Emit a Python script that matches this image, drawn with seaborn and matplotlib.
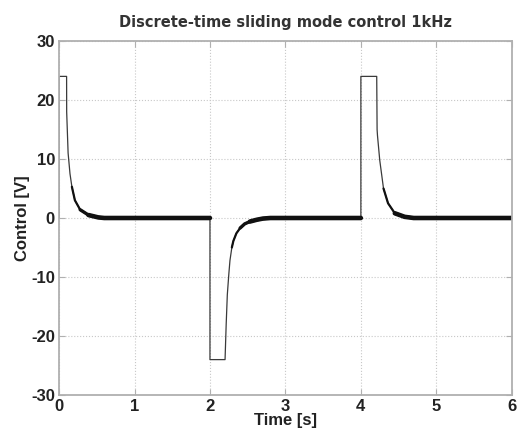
import matplotlib
matplotlib.use("Agg")
import matplotlib.pyplot as plt
import seaborn as sns
import pandas as pd
import numpy as np

# Control signal (time [s], control [V])
time_s = [0.0, 0.0, 0.10, 0.101, 0.12, 0.145, 0.17, 0.21, 0.28, 0.39, 0.52, 0.60,
          2.0, 2.0, 2.2, 2.215, 2.23, 2.25, 2.265, 2.29, 2.31, 2.35, 2.40, 2.46, 2.53, 2.62, 2.70, 2.80,
          4.0, 4.0, 4.21, 4.215, 4.22, 4.25, 4.30, 4.36, 4.45, 4.58, 4.70,
          6.0]
control_v = [0.0, 24.0, 24.0, 18.0, 11.0, 7.5, 5.3, 3.0, 1.4, 0.5, 0.1, 0.0,
             0.0, -24.0, -24.0, -18.0, -13.0, -9.5, -7.2, -5.0, -3.9, -2.6, -1.7, -1.0, -0.6, -0.3, -0.1, 0.0,
             0.0, 24.0, 24.0, 15.0, 14.0, 9.8, 5.0, 2.5, 0.8, 0.2, 0.0,
             0.0]

# Chattering (sliding-mode) intervals, where the trace looks thick
band_start = [0.15, 2.28, 4.28]
band_end = [2.0, 4.0, 6.0]

x_ticks = [0, 1, 2, 3, 4, 5, 6]
y_ticks = [-30, -20, -10, 0, 10, 20, 30]

sns.set_theme(style="white")
plt.rcParams['font.family'] = ['Liberation Sans', 'DejaVu Sans']
plt.rcParams['axes.unicode_minus'] = False

fig = plt.figure(figsize=(5.18, 4.36), dpi=100)
ax = fig.add_axes([0.114, 0.094, 0.874, 0.812])

df = pd.DataFrame({"t": time_s, "u": control_v})
sns.lineplot(data=df, x="t", y="u", ax=ax, color="#3a3a3a", linewidth=0.9,
             sort=False, estimator=None)

t_arr = np.array(time_s)
u_arr = np.array(control_v)
# taper: wider trace the closer the signal gets to zero
for amp, lw in [(6.0, 1.6), (2.0, 2.4), (0.9, 3.3)]:
    for s, e in zip(band_start, band_end):
        m = (t_arr >= s) & (t_arr <= e) & (np.abs(u_arr) < amp)
        bdf = pd.DataFrame({"t": t_arr[m], "u": u_arr[m]})
        sns.lineplot(data=bdf, x="t", y="u", ax=ax, color="#111111", linewidth=lw,
                     sort=False, estimator=None, solid_capstyle="round")

ax.set_xlim(0, 6)
ax.set_ylim(-30, 30)
ax.set_xticks(x_ticks)
ax.set_yticks(y_ticks)
ax.grid(True, linestyle=":", color="#c8c8c8", linewidth=0.8)
for sp in ax.spines.values():
    sp.set_color("#b0b0b0")
    sp.set_linewidth(1.3)
ax.tick_params(direction="in", length=4, width=0.8, color="#b0b0b0",
               labelsize=12, labelcolor="#222222", pad=3,
               top=True, right=True, bottom=True, left=True)
for lab in ax.get_xticklabels() + ax.get_yticklabels():
    lab.set_fontweight("bold")

ax.set_xlabel("Time [s]", fontsize=12, fontweight="bold", color="#222222", labelpad=-1)
ax.set_ylabel("Control [V]", fontsize=12, fontweight="bold", color="#222222", labelpad=1)
ax.set_title("Discrete-time sliding mode control 1kHz", fontsize=10.5, fontweight="bold",
             family=["DejaVu Sans"], color="#333333", pad=10)

fig.savefig("out.png", dpi=100)
